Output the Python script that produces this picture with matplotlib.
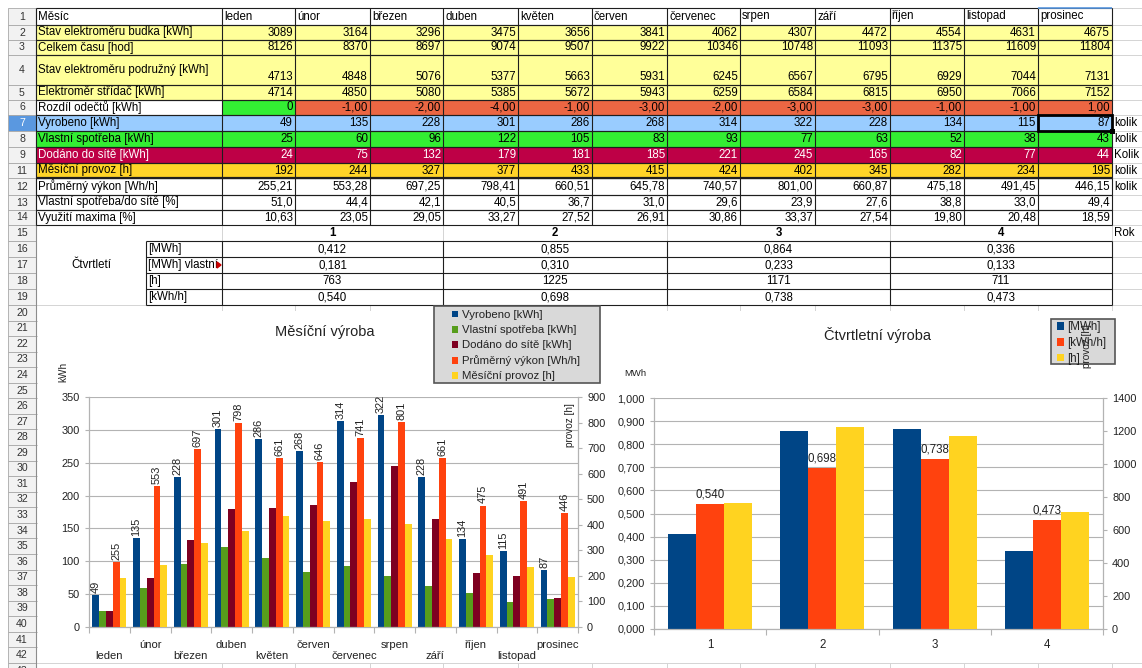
import matplotlib
matplotlib.use("Agg")
import matplotlib.pyplot as plt
from matplotlib.patches import Rectangle, Polygon
from matplotlib.ticker import FuncFormatter, MultipleLocator, FixedLocator
import numpy as np

plt.rcParams['font.family'] = ['Liberation Sans', 'DejaVu Sans']

# ---------------- data ----------------
months = ['leden', 'únor', 'březen', 'duben', 'květen', 'červen', 'červenec',
          'srpen', 'září', 'říjen', 'listopad', 'prosinec']
stav_budka = [3089, 3164, 3296, 3475, 3656, 3841, 4062, 4307, 4472, 4554, 4631, 4675]
celkem_casu = [8126, 8370, 8697, 9074, 9507, 9922, 10346, 10748, 11093, 11375, 11609, 11804]
stav_podruzny = [4713, 4848, 5076, 5377, 5663, 5931, 6245, 6567, 6795, 6929, 7044, 7131]
stridac = [4714, 4850, 5080, 5385, 5672, 5943, 6259, 6584, 6815, 6950, 7066, 7152]
rozdil = [0, -1, -2, -4, -1, -3, -2, -3, -3, -1, -1, 1]
vyrobeno = [49, 135, 228, 301, 286, 268, 314, 322, 228, 134, 115, 87]
vlastni = [25, 60, 96, 122, 105, 83, 93, 77, 63, 52, 38, 43]
dodano = [24, 75, 132, 179, 181, 185, 221, 245, 165, 82, 77, 44]
provoz = [192, 244, 327, 377, 433, 415, 424, 402, 345, 282, 234, 195]
vykon = [255.21, 553.28, 697.25, 798.41, 660.51, 645.78, 740.57, 801.00, 660.87, 475.18, 491.45, 446.15]
vlastni_pct = [51.0, 44.4, 42.1, 40.5, 36.7, 31.0, 29.6, 23.9, 27.6, 38.8, 33.0, 49.4]
vyuziti = [10.63, 23.05, 29.05, 33.27, 27.52, 26.91, 30.86, 33.37, 27.54, 19.80, 20.48, 18.59]

quarters = ['1', '2', '3', '4']
q_row_labels = ['[MWh]', '[MWh] vlastní', '[h]', '[kWh/h]']
q_mwh = [0.412, 0.855, 0.864, 0.336]
q_vlastni = [0.181, 0.310, 0.233, 0.133]
q_h = [763, 1225, 1171, 711]
q_kwhh = [0.540, 0.698, 0.738, 0.473]

monthly_series = ['Vyrobeno [kWh]', 'Vlastní spotřeba [kWh]', 'Dodáno do sítě [kWh]',
                  'Průměrný výkon [Wh/h]', 'Měsíční provoz [h]']
quarter_series = ['[MWh]', '[kWh/h]', '[h]']

C_BLUE, C_ORANGE, C_YELLOW, C_GREEN, C_DRED = '#004586', '#FF420E', '#FFD320', '#579D1C', '#7E0021'

# ---------------- figure / sheet ----------------
W, H = 1142, 668
fig = plt.figure(figsize=(W / 100, H / 100), dpi=100)
fig.patch.set_facecolor('white')
bg = fig.add_axes([0, 0, 1, 1])
bg.set_xlim(0, W)
bg.set_ylim(H, 0)
bg.axis('off')


def frac(x0, y0, x1, y1):
    return [x0 / W, 1 - y1 / H, (x1 - x0) / W, (y1 - y0) / H]


def fx(x):
    return x / W


def fy(y):
    return 1 - y / H


cols = [36, 222, 295, 370, 443, 518, 592, 667, 740, 815, 890, 964, 1038, 1112, 1186]
row_ids = [1, 2, 3, 4, 5, 6, 7, 8, 9, 11, 12, 13, 14, 15, 16, 17, 18, 19] + list(range(20, 44))
edges = [8, 25, 40, 55, 85, 100, 115, 131, 147, 163, 178, 195, 210, 225, 241, 257, 273, 289, 305]
for k in range(1, 25):
    edges.append(305 + 15.56 * k)
ROW = {r: (edges[i], edges[i + 1]) for i, r in enumerate(row_ids)}

GRID = '#D4D4D4'
BORDER = '#1E1E1E'
FS = 8.3


def rect(x0, y0, x1, y1, fc, ec='none', lw=0.0, z=1.0):
    bg.add_patch(Rectangle((x0, y0), x1 - x0, y1 - y0, facecolor=fc, edgecolor=ec, lw=lw, zorder=z))


def line(xs, ys, color=BORDER, lw=0.8, z=3):
    bg.plot(xs, ys, color=color, lw=lw, zorder=z, solid_capstyle='butt')


def txt(x, y, s, ha='left', color='black', size=FS, weight='normal', z=5):
    return bg.text(x, y, s, ha=ha, va='center', color=color, fontsize=size, fontweight=weight, zorder=z)


def cz(v, d):
    return f'{v:.{d}f}'.replace('.', ',')


# gridlines of the sheet
for x in cols:
    line([x, x], [8, H], color=GRID, lw=0.7, z=0.5)
for y in edges:
    line([36, W], [y, y], color=GRID, lw=0.7, z=0.5)

# row header column
for r in row_ids:
    t, b = ROW[r]
    fc = '#5A98E0' if r == 7 else '#F2F2F2'
    rect(8, t, 36, b, fc, ec='#A8A8A8', lw=0.6, z=1)
    txt(22, (t + b) / 2, str(r), ha='center', size=7.6,
        color='white' if r == 7 else '#333333', z=2)
line([36, 36], [8, H], color='#8C8C8C', lw=0.8, z=2)

# merged areas (erase gridlines)
rect(36.5, 225.5, 221.5, 304.5, 'white', z=0.8)
for q in range(4):
    xa, xb = cols[1 + 3 * q], cols[4 + 3 * q]
    for r in [15, 16, 17, 18, 19]:
        t, b = ROW[r]
        rect(xa + 0.5, t + 0.5, xb - 0.5, b - 0.5, 'white', z=0.8)

# fills of the monthly table
YEL, GRN, ORG, LBL, RED, GLD = '#FFFF99', '#33EE33', '#EC6643', '#99CCFF', '#BE0046', '#FFD428'
for r in [1, 12, 13, 14]:
    rect(36, ROW[r][0], 1112, ROW[r][1], 'white', z=1)
for r in [2, 3, 4, 5]:
    rect(36, ROW[r][0], 1112, ROW[r][1], YEL, z=1)
rect(36, ROW[6][0], 222, ROW[6][1], 'white', z=1)
rect(222, ROW[6][0], 295, ROW[6][1], GRN, z=1)
rect(295, ROW[6][0], 1112, ROW[6][1], ORG, z=1)
rect(36, ROW[7][0], 1112, ROW[7][1], LBL, z=1)
rect(36, ROW[8][0], 1112, ROW[8][1], GRN, z=1)
rect(36, ROW[9][0], 1112, ROW[9][1], RED, z=1)
rect(36, ROW[11][0], 1112, ROW[11][1], GLD, z=1)

# borders of the monthly table
table_rows = [1, 2, 3, 4, 5, 6, 7, 8, 9, 11, 12, 13, 14]
for r in table_rows:
    t, b = ROW[r]
    line([36, 1112], [t, t])
    line([36, 1112], [b, b])
    for x in cols[:14]:
        line([x, x], [t, b])
line([36, 1112], [178, 178], lw=1.6)
line([1038, 1112], [8, 8], color='#5A98E0', lw=1.2, z=4)

# selected cell
bg.add_patch(Rectangle((1038, ROW[7][0]), 74, ROW[7][1] - ROW[7][0], fill=False,
                       edgecolor='black', lw=2.0, zorder=6))
rect(1110, ROW[7][1] - 2, 1115, ROW[7][1] + 3, 'black', z=7)


# texts of the monthly table
def rowtext(r, label, values, fmt, color='black', valign=None):
    t, b = ROW[r]
    yc = (t + b) / 2
    txt(38, yc, label, color=color)
    yv = yc if valign is None else valign
    for i, v in enumerate(values):
        txt(cols[i + 2] - 2, yv, fmt(v, i), ha='right', color=color)


t1, b1 = ROW[1]
txt(38, (t1 + b1) / 2, 'Měsíc')
for i, m in enumerate(months):
    txt(cols[i + 1] + 2, (t1 + b1) / 2, m)

rowtext(2, 'Stav elektroměru budka [kWh]', stav_budka, lambda v, i: str(v))
rowtext(3, 'Celkem času [hod]', celkem_casu, lambda v, i: str(v))
rowtext(4, 'Stav elektroměru podružný [kWh]', stav_podruzny, lambda v, i: str(v), valign=77)
rowtext(5, 'Elektroměr střídač [kWh]', stridac, lambda v, i: str(v))
rowtext(6, 'Rozdíl odečtů [kWh]', rozdil, lambda v, i: '0' if v == 0 else cz(v, 2))
rowtext(7, 'Vyrobeno [kWh]', vyrobeno, lambda v, i: str(v))
rowtext(8, 'Vlastní spotřeba [kWh]', vlastni, lambda v, i: str(v))
rowtext(9, 'Dodáno do sítě [kWh]', dodano, lambda v, i: str(v), color='white')
rowtext(11, 'Měsíční provoz [h]', provoz, lambda v, i: str(v))
rowtext(12, 'Průměrný výkon [Wh/h]', vykon, lambda v, i: cz(v, 2))
rowtext(13, 'Vlastní spotřeba/do sítě [%]', vlastni_pct, lambda v, i: cz(v, 1))
rowtext(14, 'Využití maxima [%]', vyuziti, lambda v, i: cz(v, 2))

for r, s in [(7, 'kolik'), (8, 'kolik'), (9, 'Kolik'), (11, 'kolik'), (12, 'kolik'), (15, 'Rok')]:
    t, b = ROW[r]
    txt(1114, (t + b) / 2, s)

# quarterly table
t15, b15 = ROW[15]
for q, name in enumerate(quarters):
    xa, xb = cols[1 + 3 * q], cols[4 + 3 * q]
    txt((xa + xb) / 2, (t15 + b15) / 2, name, ha='center', weight='bold')
txt(91, 265, 'Čtvrtletí', ha='center')
q_rows = [q_mwh, q_vlastni, q_h, q_kwhh]
q_fmt = [lambda v: cz(v, 3), lambda v: cz(v, 3), lambda v: str(v), lambda v: cz(v, 3)]
for k, r in enumerate([16, 17, 18, 19]):
    t, b = ROW[r]
    lab = txt(148, (t + b) / 2, q_row_labels[k])
    lab.set_clip_path(Rectangle((146, t), 70, b - t, transform=bg.transData))
    for q in range(4):
        xa, xb = cols[1 + 3 * q], cols[4 + 3 * q]
        txt((xa + xb) / 2, (t + b) / 2, q_fmt[k](q_rows[k][q]), ha='center')
bg.add_patch(Polygon([(217, 262), (217, 268), (221, 265)], closed=True, color='#CC0000', zorder=6))
for y in [241, 257, 273, 289, 305]:
    line([146, 1112], [y, y])
for x in [146, 222, 443, 667, 890, 1112]:
    line([x, x], [241, 305])

# chart backgrounds
rect(38, 311, 613, 663, 'white', z=8)
rect(613, 311, W, 663, 'white', z=8)
# legend boxes
rect(434, 306, 600, 383, '#D9D9D9', ec='#555555', lw=1.2, z=9)
rect(1051, 319, 1115, 364, '#D9D9D9', ec='#555555', lw=1.2, z=9)

AXC = '#B3B3B3'
TXC = '#222222'


def style_axes(ax, axr):
    ax.patch.set_visible(False)
    for s in ['top', 'right']:
        ax.spines[s].set_visible(False)
    for s in ['top', 'left', 'bottom']:
        axr.spines[s].set_visible(False)
    for sp in [ax.spines['left'], ax.spines['bottom'], axr.spines['right']]:
        sp.set_color(AXC)
        sp.set_linewidth(0.9)
    ax.yaxis.grid(True, color=AXC, lw=0.8)
    ax.set_axisbelow(True)
    ax.tick_params(axis='y', direction='out', length=3, width=0.8, color=AXC,
                   labelsize=7.9, labelcolor=TXC, pad=3.5)
    axr.tick_params(axis='y', direction='out', length=3, width=0.8, color=AXC,
                    labelsize=7.9, labelcolor=TXC, pad=3.5)
    ax.tick_params(axis='x', which='minor', direction='out', length=4.5, width=0.8, color=AXC)


# ---------------- left chart ----------------
ax1 = fig.add_axes(frac(89, 397, 578, 627))
ax1r = ax1.twinx()
x = np.arange(len(months))
bw = 1 / 6
b1 = ax1.bar(x - 2 * bw, vyrobeno, bw, color=C_BLUE, label=monthly_series[0])
b2 = ax1.bar(x - bw, vlastni, bw, color=C_GREEN, label=monthly_series[1])
b3 = ax1.bar(x, dodano, bw, color=C_DRED, label=monthly_series[2])
b4 = ax1r.bar(x + bw, vykon, bw, color=C_ORANGE, label=monthly_series[3])
b5 = ax1r.bar(x + 2 * bw, provoz, bw, color=C_YELLOW, label=monthly_series[4])
ax1.set_xlim(-0.5, len(months) - 0.5)
ax1.set_ylim(0, 350)
ax1r.set_ylim(0, 900)
ax1.yaxis.set_major_locator(MultipleLocator(50))
ax1r.yaxis.set_major_locator(MultipleLocator(100))
style_axes(ax1, ax1r)
ax1.set_xticks(x)
ax1.set_xticklabels([('\n' + m) if i % 2 == 0 else m for i, m in enumerate(months)],
                    fontsize=8.1, color=TXC, linespacing=1.15)
ax1.tick_params(axis='x', which='major', length=0, pad=9)
ax1.xaxis.set_minor_locator(FixedLocator(np.arange(-0.5, len(months), 1.0)))
ax1.bar_label(b1, labels=[str(v) for v in vyrobeno], rotation=90, padding=1.5, fontsize=7.9, color=TXC)
ax1r.bar_label(b4, labels=[str(round(v)) for v in vykon], rotation=90, padding=1.5, fontsize=7.9, color=TXC)

leg1 = ax1.legend(handles=[b1, b2, b3, b4, b5], loc='upper left',
                  bbox_to_anchor=(fx(452), fy(310)), bbox_transform=fig.transFigure,
                  borderaxespad=0, borderpad=0, fontsize=8.2, handlelength=0.55, handleheight=0.55,
                  handletextpad=0.3, labelspacing=0.45, frameon=False)
for t in leg1.get_texts():
    t.set_color(TXC)

fig.text(fx(325), fy(332), 'Měsíční výroba', ha='center', va='center', fontsize=10.5, color=TXC)
fig.text(fx(63), fy(372), 'kWh', rotation=90, ha='center', va='center', fontsize=7.2, color=TXC)
fig.text(fx(570), fy(425), 'provoz [h]', rotation=90, ha='center', va='center', fontsize=7.2, color=TXC)

# ---------------- right chart ----------------
ax2 = fig.add_axes(frac(654, 398, 1103, 629))
ax2r = ax2.twinx()
xq = np.arange(len(quarters))
qw = 0.25
c1 = ax2.bar(xq - qw, q_mwh, qw, color=C_BLUE, label=quarter_series[0])
c2 = ax2.bar(xq, q_kwhh, qw, color=C_ORANGE, label=quarter_series[1])
c3 = ax2r.bar(xq + qw, q_h, qw, color=C_YELLOW, label=quarter_series[2])
ax2.set_xlim(-0.5, len(quarters) - 0.5)
ax2.set_ylim(0, 1.0)
ax2r.set_ylim(0, 1400)
ax2.yaxis.set_major_locator(MultipleLocator(0.1))
ax2.yaxis.set_major_formatter(FuncFormatter(lambda v, p: cz(v, 3)))
ax2r.yaxis.set_major_locator(MultipleLocator(200))
style_axes(ax2, ax2r)
ax2.set_xticks(xq)
ax2.set_xticklabels(quarters, fontsize=8.3, color=TXC)
ax2.tick_params(axis='x', which='major', length=0, pad=7)
ax2.xaxis.set_minor_locator(FixedLocator(np.arange(-0.5, len(quarters), 1.0)))
ax2.bar_label(c2, labels=[cz(v, 3) for v in q_kwhh], padding=2.5, fontsize=8.3, color=TXC)

leg2 = ax2.legend(handles=[c1, c2, c3], loc='upper left',
                  bbox_to_anchor=(fx(1057), fy(321)), bbox_transform=fig.transFigure,
                  borderaxespad=0, borderpad=0, fontsize=8.3, handlelength=0.6, handleheight=0.6,
                  handletextpad=0.3, labelspacing=0.34, frameon=False)
for t in leg2.get_texts():
    t.set_color(TXC)

fig.text(fx(877), fy(335), 'Čtvrtletní výroba', ha='center', va='center', fontsize=10.5, color=TXC)
fig.text(fx(635), fy(373), 'MWh', ha='center', va='center', fontsize=6.8, color=TXC)
fig.text(fx(1087), fy(346), 'provoz [h]', rotation=90, ha='center', va='center', fontsize=7.2, color=TXC)

fig.savefig('out.png', dpi=100, facecolor='white')
